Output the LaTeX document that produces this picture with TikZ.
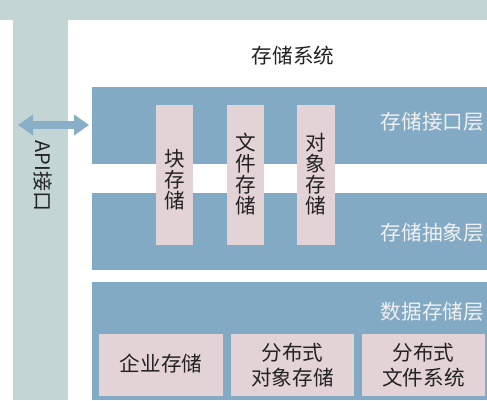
\documentclass[tikz,border=0pt]{standalone}
\usepackage{fontspec}
\setmainfont{Noto Sans CJK SC}
\usetikzlibrary{arrows.meta}
\definecolor{bgteal}{HTML}{C3D5D5}
\definecolor{layerblue}{HTML}{82AAC5}
\definecolor{boxpink}{HTML}{E3D3D6}
\definecolor{arrowblue}{HTML}{88AEC8}
\definecolor{txtdark}{HTML}{222222}
\begin{document}
\begin{tikzpicture}[x=1pt,y=-1pt,
  layer/.style={fill=layerblue,draw=none},
  pinkbox/.style={fill=boxpink,draw=none},
  layerlabel/.style={text=white!94!black,font=\fontsize{20.6}{22}\selectfont,anchor=east,inner sep=0},
  boxtext/.style={text=txtdark,font=\fontsize{20.6}{25}\selectfont,align=center,inner sep=0},
  vtext/.style={text=txtdark,font=\fontsize{20.6}{21}\selectfont,align=center,inner sep=0}]
\useasboundingbox (0,0) rectangle (487,400);
% background
\fill[bgteal] (0,0) rectangle (487,400);
\fill[white] (0,20) rectangle (13,400);
\fill[white] (68,20) rectangle (487,400);
% title
\node[text=txtdark,font=\fontsize{20.6}{22}\selectfont,inner sep=0] (title) at (293,56) {存储系统};
% layers
\fill[layer] (92,87) rectangle (487,164);
\fill[layer] (92,193) rectangle (487,270);
\fill[layer] (92,282) rectangle (487,400);
\node[layerlabel] (l1) at (484,122) {存储接口层};
\node[layerlabel] (l2) at (484,233) {存储抽象层};
\node[layerlabel] (l3) at (484,312) {数据存储层};
% vertical pink boxes
\fill[pinkbox] (156,105) rectangle (193,245);
\fill[pinkbox] (227,105) rectangle (264,245);
\fill[pinkbox] (297,105) rectangle (335,245);
\node[vtext] (kuai) at (174.5,180) {块\\存\\储};
\node[vtext] (wenjian) at (245.5,174) {文\\件\\存\\储};
\node[vtext] (duixiang) at (316,174) {对\\象\\存\\储};
% bottom pink boxes
\fill[pinkbox] (99,334) rectangle (223,396);
\fill[pinkbox] (231,334) rectangle (354,396);
\fill[pinkbox] (362,334) rectangle (485,396);
\node[boxtext] (qiye) at (161,364) {企业存储};
\node[boxtext] (fbdx) at (292.5,365) {分布式\\对象存储};
\node[boxtext] (fbwj) at (423.5,365) {分布式\\文件系统};
% API arrow
\coordinate (aL) at (18,125);
\coordinate (aR) at (89,125);
\draw[arrowblue,line width=8pt,{Triangle[length=15pt,width=20pt]}-{Triangle[length=15pt,width=20pt]}] (aL) -- (aR);
\node[text=txtdark,font=\fontsize{20}{21}\selectfont,rotate=-90,inner sep=0] (api) at (43,176) {API接口};
\end{tikzpicture}
\end{document}
